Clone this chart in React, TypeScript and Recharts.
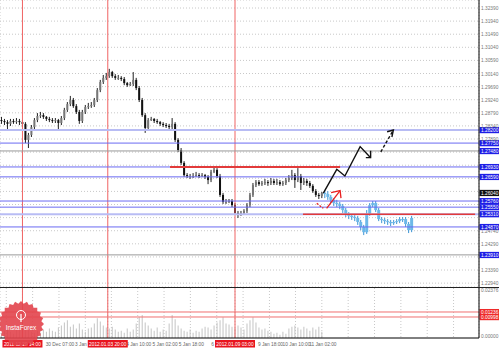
import { ComposedChart, Bar, Line, XAxis, YAxis, CartesianGrid, ReferenceLine } from 'recharts';

const FONT = "'Liberation Sans', Arial, sans-serif";

// H2 candles, 29 Dec 2011 .. 11 Jan 2012 (open = previous close)
const firstOpen = 1.2854;
const closes = [
  1.2851, 1.2847, 1.2841, 1.2851, 1.2847, 1.2851, 1.2847, 1.2841, 1.2786, 1.2803,
  1.2830, 1.2854, 1.2868, 1.2871, 1.2865, 1.2858, 1.2854, 1.2851, 1.2854, 1.2844,
  1.2861, 1.2889, 1.2909, 1.2923, 1.2902, 1.2882, 1.2851, 1.2882, 1.2899, 1.2902,
  1.2906, 1.2923, 1.2957, 1.2985, 1.2999, 1.3005, 1.3019, 1.3005, 1.2999, 1.2999,
  1.2995, 1.2981, 1.2974, 1.2978, 1.2992, 1.2964, 1.2923, 1.2871, 1.2827, 1.2854,
  1.2858, 1.2851, 1.2847, 1.2841, 1.2837, 1.2834, 1.2830, 1.2841, 1.2786, 1.2751,
  1.2707, 1.2665, 1.2662, 1.2662, 1.2662, 1.2665, 1.2662, 1.2665, 1.2659, 1.2648,
  1.2676, 1.2683, 1.2662, 1.2597, 1.2573, 1.2573, 1.2576, 1.2562, 1.2535, 1.2528,
  1.2535, 1.2542, 1.2562, 1.2597, 1.2631, 1.2641, 1.2634, 1.2638, 1.2641, 1.2638,
  1.2645, 1.2638, 1.2641, 1.2634, 1.2638, 1.2648, 1.2655, 1.2665, 1.2648, 1.2662,
  1.2638, 1.2645, 1.2638, 1.2628, 1.2610, 1.2597, 1.2593, 1.2604,
];
const highs = [
  1.2865, 1.2858, 1.2854, 1.2858, 1.2858, 1.2861, 1.2858, 1.2854, 1.2847, 1.2810,
  1.2837, 1.2861, 1.2878, 1.2882, 1.2878, 1.2868, 1.2865, 1.2861, 1.2861, 1.2858,
  1.2868, 1.2896, 1.2916, 1.2937, 1.2930, 1.2909, 1.2889, 1.2889, 1.2906, 1.2913,
  1.2916, 1.2930, 1.2964, 1.2992, 1.3009, 1.3016, 1.3030, 1.3023, 1.3012, 1.3009,
  1.3005, 1.3002, 1.2985, 1.2985, 1.3019, 1.2999, 1.2971, 1.2930, 1.2878, 1.2861,
  1.2865, 1.2861, 1.2858, 1.2851, 1.2847, 1.2844, 1.2841, 1.2861, 1.2847, 1.2792,
  1.2758, 1.2713, 1.2672, 1.2669, 1.2672, 1.2676, 1.2672, 1.2672, 1.2669, 1.2665,
  1.2683, 1.2693, 1.2689, 1.2669, 1.2604, 1.2583, 1.2583, 1.2583, 1.2569, 1.2542,
  1.2542, 1.2548, 1.2569, 1.2604, 1.2638, 1.2648, 1.2648, 1.2645, 1.2652, 1.2648,
  1.2655, 1.2652, 1.2652, 1.2648, 1.2645, 1.2655, 1.2665, 1.2683, 1.2672, 1.2689,
  1.2669, 1.2655, 1.2652, 1.2645, 1.2634, 1.2617, 1.2604, 1.2607,
];
const lows = [
  1.2841, 1.2837, 1.2820, 1.2834, 1.2841, 1.2841, 1.2837, 1.2830, 1.2775, 1.2758,
  1.2796, 1.2823, 1.2847, 1.2861, 1.2858, 1.2851, 1.2847, 1.2844, 1.2844, 1.2820,
  1.2837, 1.2854, 1.2882, 1.2902, 1.2896, 1.2875, 1.2841, 1.2844, 1.2875, 1.2892,
  1.2896, 1.2899, 1.2916, 1.2950, 1.2978, 1.2992, 1.2999, 1.2999, 1.2992, 1.2992,
  1.2988, 1.2974, 1.2968, 1.2971, 1.2971, 1.2957, 1.2916, 1.2865, 1.2810, 1.2820,
  1.2851, 1.2844, 1.2841, 1.2834, 1.2830, 1.2827, 1.2823, 1.2823, 1.2779, 1.2744,
  1.2700, 1.2659, 1.2655, 1.2652, 1.2655, 1.2659, 1.2655, 1.2659, 1.2652, 1.2634,
  1.2641, 1.2672, 1.2655, 1.2590, 1.2566, 1.2566, 1.2569, 1.2555, 1.2528, 1.2518,
  1.2525, 1.2531, 1.2535, 1.2555, 1.2590, 1.2624, 1.2628, 1.2628, 1.2631, 1.2628,
  1.2631, 1.2631, 1.2631, 1.2628, 1.2628, 1.2631, 1.2641, 1.2648, 1.2621, 1.2641,
  1.2614, 1.2631, 1.2628, 1.2621, 1.2604, 1.2590, 1.2583, 1.2586,
];

// projected (blue) path
const projCloses = [
  1.2600, 1.2590, 1.2580, 1.2569, 1.2566, 1.2559, 1.2545, 1.2531, 1.2525, 1.2521,
  1.2518, 1.2504, 1.2487, 1.2469, 1.2531, 1.2562, 1.2569, 1.2545, 1.2514, 1.2511,
  1.2507, 1.2504, 1.2500, 1.2504, 1.2507, 1.2514, 1.2514, 1.2497, 1.2476, 1.2518,
];
const projHighs = [
  1.2614, 1.2610, 1.2597, 1.2586, 1.2580, 1.2573, 1.2566, 1.2552, 1.2538, 1.2531,
  1.2528, 1.2525, 1.2511, 1.2494, 1.2545, 1.2569, 1.2576, 1.2576, 1.2552, 1.2521,
  1.2518, 1.2514, 1.2511, 1.2511, 1.2514, 1.2521, 1.2521, 1.2521, 1.2504, 1.2525,
];
const projLows = [
  1.2586, 1.2580, 1.2569, 1.2559, 1.2555, 1.2548, 1.2535, 1.2521, 1.2514, 1.2511,
  1.2507, 1.2494, 1.2476, 1.2459, 1.2463, 1.2525, 1.2555, 1.2538, 1.2507, 1.2500,
  1.2497, 1.2494, 1.2490, 1.2494, 1.2497, 1.2500, 1.2504, 1.2487, 1.2466, 1.2469,
];

// lower indicator histogram
const volumes = [
  0.0025, 0.0035, 0.0045, 0.0030, 0.0020, 0.0040, 0.0050, 0.0035, 0.0059, 0.0045,
  0.0030, 0.0025, 0.0035, 0.0025, 0.0040, 0.0030, 0.0045, 0.0035, 0.0030, 0.0050,
  0.0059, 0.0074, 0.0084, 0.0054, 0.0064, 0.0045, 0.0069, 0.0040, 0.0030, 0.0045,
  0.0050, 0.0069, 0.0094, 0.0079, 0.0059, 0.0050, 0.0045, 0.0054, 0.0040, 0.0030,
  0.0035, 0.0025, 0.0045, 0.0030, 0.0040, 0.0069, 0.0099, 0.0109, 0.0074, 0.0059,
  0.0045, 0.0035, 0.0050, 0.0030, 0.0040, 0.0035, 0.0069, 0.0109, 0.0089, 0.0059,
  0.0045, 0.0035, 0.0030, 0.0040, 0.0025, 0.0035, 0.0030, 0.0045, 0.0054, 0.0050,
  0.0040, 0.0059, 0.0074, 0.0084, 0.0099, 0.0069, 0.0064, 0.0054, 0.0045, 0.0059,
  0.0050, 0.0040, 0.0069, 0.0084, 0.0099, 0.0074, 0.0050, 0.0040, 0.0045, 0.0035,
  0.0030, 0.0020, 0.0025, 0.0015, 0.0030, 0.0020, 0.0045, 0.0054, 0.0059, 0.0050,
  0.0040, 0.0054, 0.0045, 0.0035, 0.0050, 0.0040, 0.0054, 0.0030,
];
const volMax = 0.02376;
const volLevels = [0.01236, 0.00998];

const priceTicks = [
  1.3239, 1.3194, 1.3149, 1.3104, 1.3059, 1.3014, 1.2969, 1.2924, 1.2879, 1.2834, 1.2789,
  1.2744, 1.2699, 1.2654, 1.2609, 1.2564, 1.2519, 1.2474, 1.2429, 1.2384, 1.2339, 1.2294,
];
const priceMin = 1.22807;
const priceMax = 1.32665;

const blueLevels = [1.2775, 1.2693, 1.2659, 1.2576, 1.2555, 1.2487];
const softLevels = [1.2820, 1.2531];
const greyLevels = [1.2748, 1.2391];
const resistance = { from: 56.3, to: 113.1, price: 1.2693 };
const support = { from: 100.7, to: 158.2, price: 1.2531 };

// hand-drawn forecast arrows
const upPath = [{ i: 107.5, p: 1.2603 }, { i: 112, p: 1.2685 }, { i: 114.7, p: 1.2662 }, { i: 119.8, p: 1.2763 }, { i: 123.3, p: 1.2725 }];
const upHead = [{ i: 121.7, p: 1.2725 }, { i: 123.3, p: 1.2725 }, { i: 123.3, p: 1.2749 }];
const dashPath = [{ i: 126.7, p: 1.2745 }, { i: 130.9, p: 1.282 }];
const dashHead = [{ i: 128.8, p: 1.2814 }, { i: 130.9, p: 1.282 }, { i: 130.4, p: 1.2796 }];
const redDash = [{ i: 105.3, p: 1.2568 }, { i: 107.5, p: 1.2551 }];
const redPath = [{ i: 108.6, p: 1.2551 }, { i: 113.1, p: 1.2612 }];
const redHead = [{ i: 110.1, p: 1.2605 }, { i: 113.1, p: 1.2612 }, { i: 113.4, p: 1.2586 }];

// time scale (labels partly hidden by the red markers are cut short)
const gridTicks = [1.6, 10.4, 19.2, 28, 36.7, 45.5, 54.3, 63.1, 71.9, 80.7, 89.5, 98.2, 107, 115.8, 124.6, 133.4, 142.2, 151];
const timeLabels = ['', '', '30 Dec 07:00', '3 Jan', '', '4 Jan 10:00', '5 Jan 02:00', '5 Jan 18:00', '6', '', '9 Jan 18:00', '10 Jan 10:00', '11 Jan 02:00'];
const markerTimes = [7, 35.5, 78];
const markerLabels = ['2011.12.29 14:00', '2012.01.03 20:00', '2012.01.09 03:00'];

const PX_PER_BAR = 479 / 160;

const candles = [
  ...closes.map((c, i) => ({ i, open: i === 0 ? firstOpen : closes[i - 1], close: c, range: [lows[i], highs[i]], proj: false })),
  ...projCloses.map((c, k) => ({
    i: closes.length + k,
    open: k === 0 ? closes[closes.length - 1] : projCloses[k - 1],
    close: c,
    range: [projLows[k], projHighs[k]],
    proj: true,
  })),
];
const volumeRows = volumes.map((v, i) => ({ i, v }));
const lastPrice = closes[closes.length - 1];
const allTags = [...blueLevels, ...softLevels, ...greyLevels, lastPrice];

function Candle(props: any) {
  const { x, y, width, height, payload } = props;
  if (!payload || !payload.range) return null;
  const [lo, hi] = payload.range;
  const top = Math.min(y, y + height);
  const span = Math.abs(height);
  const toY = (p: number) => (hi === lo ? top : top + ((hi - p) / (hi - lo)) * span);
  const cx = x + width / 2;
  const yo = toY(payload.open);
  const yc = toY(payload.close);
  const bodyTop = Math.min(yo, yc);
  const bodyH = Math.max(1, Math.abs(yo - yc));
  if (payload.proj) {
    return (
      <g>
        <line x1={cx} x2={cx} y1={top} y2={top + span} stroke="#3d94d4" strokeWidth={1} />
        <rect x={cx - 1.5} y={bodyTop} width={3} height={bodyH} fill="#6cb8e8" />
      </g>
    );
  }
  const up = payload.close >= payload.open;
  return (
    <g>
      <line x1={cx} x2={cx} y1={top} y2={top + span} stroke="#222" strokeWidth={1} />
      <rect x={cx - 1} y={bodyTop} width={2} height={bodyH} fill={up ? '#777' : '#111'} />
    </g>
  );
}

function tag(value: number, fill: string, digits = 5) {
  return (props: any) => {
    const vb = props.viewBox || {};
    const x = (vb.x ?? 0) + (vb.width ?? 0);
    const y = vb.y ?? 0;
    return (
      <g>
        <rect x={x + 0.5} y={y - 3} width={20} height={6.2} fill={fill} />
        <text x={x + 2} y={y + 1.8} fontSize={4.8} fontFamily={FONT} fill="#fff">
          {value.toFixed(digits)}
        </text>
      </g>
    );
  };
}

function PriceTick(props: any) {
  const { x, y, payload } = props;
  const v = payload.value;
  if (allTags.some((t) => Math.abs(t - v) < 0.00125)) return null;
  return (
    <text x={x} y={y + 2} fontSize={4.8} fontFamily={FONT} fill="#777">
      {v.toFixed(5)}
    </text>
  );
}

function VolTick(props: any) {
  const { x, y, payload } = props;
  const v = payload.value;
  return (
    <text x={x} y={v > 0 ? y + 4 : y} fontSize={4.8} fontFamily={FONT} fill="#777">
      {v.toFixed(5)}
    </text>
  );
}

function TimeTick(props: any) {
  const { x, y, payload } = props;
  const v = payload.value;
  const m = markerTimes.indexOf(v);
  if (m >= 0) {
    return (
      <g>
        <rect x={x - 20} y={y + 2} width={40} height={7.5} fill="#e8141e" />
        <text x={x} y={y + 7.6} textAnchor="middle" fontSize={4.8} fontFamily={FONT} fill="#fff">
          {markerLabels[m]}
        </text>
      </g>
    );
  }
  const label = timeLabels[gridTicks.indexOf(v)];
  if (!label) return null;
  if (label.length < 6) {
    // shortened label: ends where the next red marker box begins
    const next = markerTimes.find((t) => t > v) ?? v;
    const end = x + (next - v) * PX_PER_BAR - 21;
    return (
      <text x={end} y={y + 7.6} textAnchor="end" fontSize={4.8} fontFamily={FONT} fill="#666">
        {label}
      </text>
    );
  }
  return (
    <text x={x + 1} y={y + 7.6} textAnchor="middle" fontSize={4.8} fontFamily={FONT} fill="#666">
      {label}
    </text>
  );
}

function Logo() {
  const pts: string[] = [];
  for (let k = 0; k < 48; k++) {
    const a = (k / 48) * Math.PI * 2;
    const r = k % 2 ? 20.5 : 23;
    pts.push(`${23 + r * Math.cos(a)},${24 + r * Math.sin(a)}`);
  }
  return (
    <svg width={48} height={50} style={{ position: 'absolute', left: -2, top: 300 }}>
      <polygon points={pts.join(' ')} fill="#e2444c" fillOpacity={0.9} />
      <circle cx={23} cy={15} r={4.5} fill="none" stroke="#fff" strokeWidth={1} />
      <line x1={23} x2={23} y1={14} y2={22} stroke="#fff" strokeWidth={1.2} />
      <text x={23} y={30} textAnchor="middle" fontSize={6.5} fontFamily={FONT} fill="#fff">
        InstaForex
      </text>
    </svg>
  );
}

const lineProps = { type: 'linear' as const, dataKey: 'p', dot: false, activeDot: false, isAnimationActive: false };

export default function App() {
  return (
    <div style={{ position: 'relative', width: 499, height: 350, background: '#fff', overflow: 'hidden' }}>
      <style>{'body{margin:0;background:#fff}'}</style>
      <div style={{ height: 287, borderBottom: '1px solid #222' }}>
        <ComposedChart width={499} height={287} data={candles} margin={{ top: 0, right: 0, bottom: 0, left: 0 }}>
          <CartesianGrid stroke="#c8c8c8" strokeDasharray="1 2" />
          <XAxis dataKey="i" type="number" domain={[-0.5, 159.5]} ticks={gridTicks} tick={false} tickLine={false} axisLine={false} height={0} allowDataOverflow />
          <YAxis
            orientation="right"
            type="number"
            width={20}
            domain={[priceMin, priceMax]}
            ticks={priceTicks}
            interval={0}
            allowDataOverflow
            tick={<PriceTick />}
            tickLine={false}
            tickSize={1}
            tickMargin={1}
            axisLine={{ stroke: '#000' }}
          />
          {markerTimes.map((m) => (
            <ReferenceLine key={'m' + m} x={m} stroke="#f06464" strokeWidth={1} />
          ))}
          {softLevels.map((p) => (
            <ReferenceLine key={'s' + p} y={p} stroke="#b8bcf4" strokeWidth={2} label={tag(p, '#1e1ee6')} />
          ))}
          {greyLevels.map((p) => (
            <ReferenceLine key={'g' + p} y={p} stroke="#9a9a9a" strokeWidth={1} label={tag(p, '#1e1ee6')} />
          ))}
          {blueLevels.map((p) => (
            <ReferenceLine key={'b' + p} y={p} stroke="#6a6af2" strokeWidth={1} label={tag(p, '#1e1ee6')} />
          ))}
          <ReferenceLine
            segment={[{ x: resistance.from, y: resistance.price }, { x: resistance.to, y: resistance.price }]}
            stroke="#e23a3a"
            strokeWidth={2}
          />
          <ReferenceLine
            segment={[{ x: support.from, y: support.price }, { x: support.to, y: support.price }]}
            stroke="#e23a3a"
            strokeWidth={1.5}
          />
          <Bar dataKey="range" barSize={3} shape={<Candle />} isAnimationActive={false} />
          <Line {...lineProps} data={upPath} stroke="#111" strokeWidth={1.4} />
          <Line {...lineProps} data={upHead} stroke="#111" strokeWidth={1.4} />
          <Line {...lineProps} data={dashPath} stroke="#111" strokeWidth={1.4} strokeDasharray="3 2" />
          <Line {...lineProps} data={dashHead} stroke="#111" strokeWidth={1.4} />
          <Line {...lineProps} data={redDash} stroke="#e82020" strokeWidth={1.3} strokeDasharray="2 1.5" />
          <Line {...lineProps} data={redPath} stroke="#e82020" strokeWidth={1.3} />
          <Line {...lineProps} data={redHead} stroke="#e82020" strokeWidth={1.3} />
          <ReferenceLine y={lastPrice} stroke="none" label={tag(lastPrice, '#111')} />
        </ComposedChart>
      </div>
      <ComposedChart width={499} height={62} data={volumeRows} margin={{ top: 0, right: 0, bottom: 0, left: 0 }}>
        <CartesianGrid stroke="#c8c8c8" strokeDasharray="1 2" horizontal={false} />
        <XAxis
          dataKey="i"
          type="number"
          domain={[-0.5, 159.5]}
          ticks={[...gridTicks, ...markerTimes]}
          interval={0}
          height={12}
          tick={<TimeTick />}
          tickLine={false}
          tickSize={0}
          tickMargin={0}
          axisLine={{ stroke: '#000' }}
          allowDataOverflow
        />
        <YAxis
          orientation="right"
          type="number"
          width={20}
          domain={[0, volMax]}
          ticks={[0, volMax]}
          interval={0}
          allowDataOverflow
          tick={<VolTick />}
          tickLine={false}
          tickSize={1}
          tickMargin={1}
          axisLine={{ stroke: '#000' }}
        />
        {markerTimes.map((m) => (
          <ReferenceLine key={'vm' + m} x={m} stroke="#f06464" strokeWidth={1} />
        ))}
        <Bar dataKey="v" barSize={1} fill="#c4c4c4" isAnimationActive={false} />
        {volLevels.map((v) => (
          <ReferenceLine key={'vl' + v} y={v} stroke="#f07070" strokeWidth={1} label={tag(v, '#ee2a2a')} />
        ))}
      </ComposedChart>
      <Logo />
    </div>
  );
}
